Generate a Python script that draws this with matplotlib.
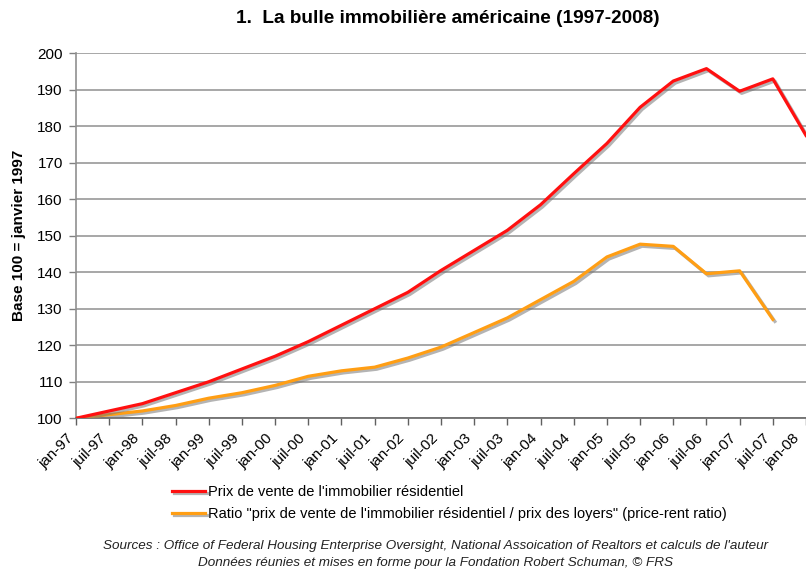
#!/usr/bin/env python3
import numpy as np
import matplotlib
matplotlib.use('Agg')
import matplotlib.pyplot as plt
import matplotlib.patheffects as pe
from matplotlib.transforms import ScaledTranslation, blended_transform_factory

matplotlib.rcParams['font.family'] = ['Liberation Sans', 'DejaVu Sans']

# Semi-annual dates, jan-97 .. jan-08
dates = ['jan-97', 'juil-97', 'jan-98', 'juil-98', 'jan-99', 'juil-99',
         'jan-00', 'juil-00', 'jan-01', 'juil-01', 'jan-02', 'juil-02',
         'jan-03', 'juil-03', 'jan-04', 'juil-04', 'jan-05', 'juil-05',
         'jan-06', 'juil-06', 'jan-07', 'juil-07', 'jan-08']

# Prix de vente de l'immobilier residentiel (base 100 = janvier 1997)
prix_vente = [100, 102, 104, 107, 110, 113.5, 117, 121, 125.5, 130, 134.5,
              140.5, 146, 151.5, 158.5, 167, 175.3, 185.2, 192.4, 195.8,
              189.6, 193, 177.5]

# Ratio prix de vente / prix des loyers (stops at juil-07)
ratio_loyers = [100, 101, 102, 103.5, 105.5, 107, 109, 111.5, 113, 114,
                116.5, 119.5, 123.5, 127.5, 132.5, 137.5, 144.2, 147.7,
                147.1, 139.6, 140.4, 127.1]

label_prix = "Prix de vente de l'immobilier résidentiel"
label_ratio = 'Ratio "prix de vente de l\'immobilier résidentiel / prix des loyers" (price-rent ratio)'

fig = plt.figure(figsize=(8.06, 5.69), dpi=100)
ax = fig.add_axes([0.0943, 0.2649, 1 - 0.0943, 0.9063 - 0.2649])

shadow = [pe.SimpleLineShadow(offset=(1.5, -1.5), shadow_color='#777777', alpha=0.55),
          pe.Normal()]

x_prix = np.arange(len(prix_vente))
x_ratio = np.arange(len(ratio_loyers))
ax.plot(x_prix, prix_vente, color='#ff1010', lw=2.3, label=label_prix,
        path_effects=shadow, solid_joinstyle='round', zorder=4)
ax.plot(x_ratio, ratio_loyers, color='#ff9e14', lw=2.3, label=label_ratio,
        path_effects=shadow, solid_joinstyle='round', zorder=3)

ax.set_xlim(0, len(dates) - 1)
ax.set_ylim(100, 200)
ax.set_yticks(np.arange(100, 201, 10))
ax.set_xticks(np.arange(len(dates)))
ax.set_xticklabels([])

# rotated date labels, placed just left of and below each tick
base = blended_transform_factory(ax.transData, ax.transAxes)
for i, d in enumerate(dates):
    dx = -9 if i == len(dates) - 1 else -5
    off = ScaledTranslation(dx / 100, -18 / 100, fig.dpi_scale_trans)
    ax.text(i, 0, d, transform=base + off, rotation=45, ha='right', va='center',
            rotation_mode='anchor', fontsize=11, clip_on=False)

ax.tick_params(axis='y', labelsize=11, length=5, width=1, color='#808080', pad=4.5)
ax.tick_params(axis='x', length=5, width=1, color='#606060')

ax.grid(axis='y', color='#a0a0a0', lw=1.3)
ax.set_axisbelow(True)
for s in ['top', 'right']:
    ax.spines[s].set_visible(False)
ax.spines['left'].set_color('#909090')
ax.spines['left'].set_linewidth(1.2)
ax.spines['bottom'].set_color('#707070')
ax.spines['bottom'].set_linewidth(1.3)

ax.set_ylabel('Base 100 = janvier 1997', fontsize=11, fontweight='bold')
ax.yaxis.set_label_coords(-0.068, 0.5)

fig.text(0.555, 0.967, '1.  La bulle immobilière américaine (1997-2008)',
         ha='center', va='center', fontsize=13.7, fontweight='bold')

fig.legend(loc='upper left', bbox_to_anchor=(0.2134, 0.147), frameon=False,
           fontsize=10.5, handlelength=2.26, handletextpad=0.2, labelspacing=0.5,
           borderaxespad=0, borderpad=0)

fig.text(0.540, 0.040,
         "Sources : Office of Federal Housing Enterprise Oversight, National Assoication of Realtors et calculs de l'auteur",
         ha='center', va='center', fontsize=9.7, style='italic', color='#222222')
fig.text(0.540, 0.010,
         'Données réunies et mises en forme pour la Fondation Robert Schuman, © FRS',
         ha='center', va='center', fontsize=9.7, style='italic', color='#222222')

fig.savefig('out.png', dpi=100)
